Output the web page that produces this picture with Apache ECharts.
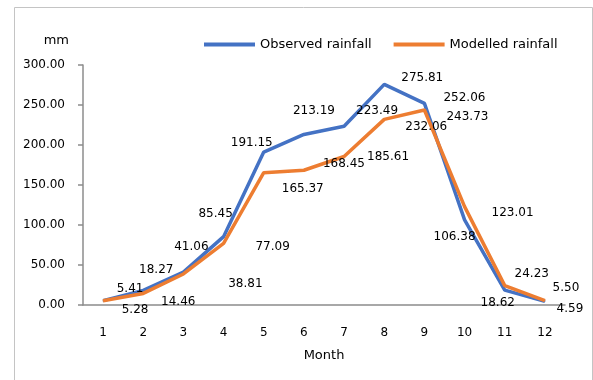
<!DOCTYPE html>
<html>
<head>
<meta charset="utf-8">
<script src="https://cdn.jsdelivr.net/npm/echarts@6/dist/echarts.min.js"></script>
<style>
  html, body { margin: 0; padding: 0; background: #fff; }
  #main { width: 593px; height: 380px; }
</style>
</head>
<body>
<div id="main"></div>
<script>
// months on the x axis
var months = ['1', '2', '3', '4', '5', '6', '7', '8', '9', '10', '11', '12']
// rainfall in mm
var observed = [5.41, 18.27, 41.06, 85.45, 191.15, 213.19, 223.49, 275.81, 252.06, 106.38, 18.62, 4.59]
var modelled = [5.28, 14.46, 38.81, 77.09, 165.37, 168.45, 185.61, 232.06, 243.73, 123.01, 24.23, 5.50]

// where each value label sits relative to its point (style only)
var observedLabelShift = [[27, -12], [13, -21], [8, -25], [-8, -23], [-12, -9], [10, -24],
  [33, -15], [38, -6], [40, -5], [-10, 17], [-7, 13], [25, 8]]
var modelledLabelShift = [[32, 9], [35, 8], [62, 10], [49, 4], [39, 16], [40, -6],
  [44, 0], [42, 8], [43, 7], [48, 6], [27, -12], [21, -13]]

var font = 'DejaVu Sans'

function withLabels(values, shifts) {
  return values.map(function(v, i) {
    return {
      value: v,
      label: { offset: shifts[i] }
    }
  })
}

var chart = echarts.init(document.getElementById('main'))
chart.setOption({
  animation: false,
  backgroundColor: '#fff',
  textStyle: { fontFamily: font },
  graphic: [
    {
      type: 'rect',
      shape: { x: 14.5, y: 7.5, width: 578, height: 400 },
      style: { fill: 'none', stroke: '#c4c4c4', lineWidth: 1 }
    }
  ],
  legend: {
    top: 33,
    left: 199,
    itemWidth: 51,
    itemHeight: 4,
    itemGap: 22,
    icon: 'rect',
    textStyle: { fontFamily: font, fontSize: 13, color: '#000' },
    data: ['Observed rainfall', 'Modelled rainfall']
  },
  grid: {
    left: 83,
    right: 28,
    top: 65,
    bottom: 75
  },
  xAxis: {
    type: 'category',
    data: months,
    boundaryGap: true,
    name: 'Month',
    nameLocation: 'middle',
    nameGap: 44,
    nameTextStyle: { fontFamily: font, fontSize: 13, color: '#000' },
    axisLine: { lineStyle: { color: '#8c8c8c', width: 1.5 } },
    axisTick: { length: 5, lineStyle: { color: '#8c8c8c', width: 1.5 } },
    axisLabel: { margin: 22, fontFamily: font, fontSize: 12, color: '#000' }
  },
  yAxis: {
    type: 'value',
    min: 0,
    max: 300,
    interval: 50,
    name: 'mm',
    nameGap: 18,
    nameTextStyle: { fontFamily: font, fontSize: 13, color: '#000', align: 'right', padding: [0, 14, 0, 0] },
    axisLine: { show: true, lineStyle: { color: '#8c8c8c', width: 1.5 } },
    axisTick: { show: true, length: 5, lineStyle: { color: '#8c8c8c', width: 1.5 } },
    splitLine: { show: false },
    axisLabel: {
      margin: 18,
      fontFamily: font,
      fontSize: 12,
      color: '#000',
      formatter: function(v) { return v.toFixed(2) }
    }
  },
  series: [
    {
      name: 'Observed rainfall',
      type: 'line',
      data: withLabels(observed, observedLabelShift),
      symbol: 'circle',
      symbolSize: 1,
      lineStyle: { color: '#4472C4', width: 3.5 },
      itemStyle: { color: '#4472C4' },
      label: {
        show: true,
        position: 'inside',
        fontFamily: font,
        fontSize: 12,
        color: '#000',
        formatter: function(p) { return p.value.toFixed(2) }
      },
      z: 2
    },
    {
      name: 'Modelled rainfall',
      type: 'line',
      data: withLabels(modelled, modelledLabelShift),
      symbol: 'circle',
      symbolSize: 1,
      lineStyle: { color: '#ED7D31', width: 3.5 },
      itemStyle: { color: '#ED7D31' },
      label: {
        show: true,
        position: 'inside',
        fontFamily: font,
        fontSize: 12,
        color: '#000',
        formatter: function(p) { return p.value.toFixed(2) }
      },
      z: 3
    }
  ]
})
</script>
</body>
</html>
